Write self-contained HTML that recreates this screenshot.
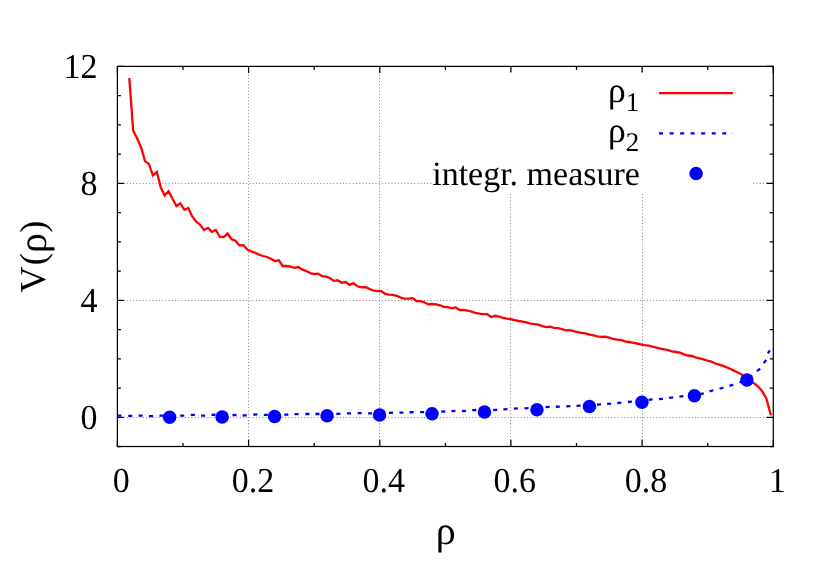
<!DOCTYPE html>
<html><head><meta charset="utf-8"><title>V(rho)</title>
<style>
html,body{margin:0;padding:0;background:#fff;}
body{width:830px;height:581px;overflow:hidden;}
svg{display:block;will-change:transform;}
text{font-family:"Liberation Serif",serif;fill:#000;text-rendering:geometricPrecision;}
.g{stroke:#848484;stroke-width:1;stroke-dasharray:1 2.23;stroke-dashoffset:0.4;fill:none;}
.f{stroke:#000;stroke-width:1.25;fill:none;}
.t{stroke:#000;stroke-width:1.25;fill:none;}
</style></head><body>
<svg width="830" height="581" viewBox="0 0 830 581">
<rect x="0" y="0" width="830" height="581" fill="#ffffff"/>

<g class="g">
<path d="M248.5,446.5 V66.4"/>
<path d="M379.5,446.5 V66.4"/>
<path d="M510.5,446.5 V66.4"/>
<path d="M642.5,446.5 V66.4"/>
<path d="M117.4,417.5 H773.3"/>
<path d="M117.4,300.5 H773.3"/>
<path d="M117.4,183.5 H773.3"/>
</g>
<path class="t" d="M117.4,446.5 v-6.7 M117.4,66.4 v6.7 M183.0,446.5 v-3.5 M183.0,66.4 v3.5 M248.6,446.5 v-6.7 M248.6,66.4 v6.7 M314.2,446.5 v-3.5 M314.2,66.4 v3.5 M379.8,446.5 v-6.7 M379.8,66.4 v6.7 M445.4,446.5 v-3.5 M445.4,66.4 v3.5 M510.9,446.5 v-6.7 M510.9,66.4 v6.7 M576.5,446.5 v-3.5 M576.5,66.4 v3.5 M642.1,446.5 v-6.7 M642.1,66.4 v6.7 M707.7,446.5 v-3.5 M707.7,66.4 v3.5 M773.3,446.5 v-6.7 M773.3,66.4 v6.7 M117.4,446.5 h3.5 M773.3,446.5 h-3.5 M117.4,417.3 h6.7 M773.3,417.3 h-6.7 M117.4,388.0 h3.5 M773.3,388.0 h-3.5 M117.4,358.8 h3.5 M773.3,358.8 h-3.5 M117.4,329.5 h3.5 M773.3,329.5 h-3.5 M117.4,300.3 h6.7 M773.3,300.3 h-6.7 M117.4,271.1 h3.5 M773.3,271.1 h-3.5 M117.4,241.8 h3.5 M773.3,241.8 h-3.5 M117.4,212.6 h3.5 M773.3,212.6 h-3.5 M117.4,183.4 h6.7 M773.3,183.4 h-6.7 M117.4,154.1 h3.5 M773.3,154.1 h-3.5 M117.4,124.9 h3.5 M773.3,124.9 h-3.5 M117.4,95.6 h3.5 M773.3,95.6 h-3.5 M117.4,66.4 h6.7 M773.3,66.4 h-6.7"/>
<path d="M129.3,78.1 L133.2,130.8 L137.2,138.6 L141.1,147.5 L145.0,161.1 L149.0,164.1 L152.9,175.5 L156.8,171.9 L160.8,187.6 L164.7,195.4 L168.6,191.2 L172.6,199.0 L176.5,206.0 L180.4,203.3 L184.4,209.8 L188.3,208.0 L192.2,216.5 L196.2,221.6 L200.1,224.7 L204.0,230.1 L208.0,228.0 L211.9,231.8 L215.8,230.0 L219.8,237.0 L223.7,237.2 L227.6,233.6 L231.6,239.2 L235.5,240.8 L239.4,245.4 L243.4,245.1 L247.3,249.6 L251.2,251.4 L255.2,252.7 L259.1,254.7 L263.0,256.0 L267.0,257.0 L270.9,258.7 L274.8,261.1 L278.8,260.3 L282.7,266.0 L286.6,266.0 L290.6,266.6 L294.5,267.8 L298.4,267.0 L302.4,269.6 L306.3,271.1 L310.2,273.1 L314.1,274.2 L318.1,273.6 L322.0,276.2 L325.9,276.6 L329.9,278.0 L333.8,280.9 L337.7,280.3 L341.7,282.7 L345.6,282.0 L349.5,284.9 L353.5,283.1 L357.4,286.3 L361.3,287.3 L365.3,287.0 L369.2,288.9 L373.1,290.5 L377.1,291.1 L381.0,291.0 L384.9,293.7 L388.9,294.6 L392.8,294.8 L396.7,295.8 L400.7,297.6 L404.6,298.7 L408.5,298.7 L412.5,298.1 L416.4,301.0 L420.3,301.1 L424.3,302.2 L428.2,304.3 L432.1,304.0 L436.1,304.3 L440.0,305.3 L443.9,306.9 L447.9,307.1 L451.8,308.4 L455.7,307.5 L459.7,310.0 L463.6,309.8 L467.5,310.5 L471.5,311.7 L475.4,312.9 L479.3,313.7 L483.3,314.1 L487.2,314.1 L491.1,317.0 L495.1,315.8 L499.0,316.5 L502.9,317.8 L506.9,318.6 L510.8,319.2 L514.7,320.2 L518.7,321.0 L522.6,321.6 L526.5,322.4 L530.5,323.6 L534.4,324.1 L538.3,324.7 L542.3,326.1 L546.2,327.1 L550.1,326.7 L554.1,327.8 L558.0,328.2 L561.9,329.2 L565.9,330.4 L569.8,330.1 L573.7,331.1 L577.7,332.2 L581.6,332.9 L585.5,333.3 L589.5,334.7 L593.4,335.3 L597.3,336.3 L601.3,336.9 L605.2,336.7 L609.1,337.5 L613.1,338.9 L617.0,339.6 L620.9,340.0 L624.9,341.3 L628.8,342.0 L632.7,342.7 L636.7,343.5 L640.6,344.3 L644.5,345.2 L648.5,345.7 L652.4,346.7 L656.3,347.6 L660.3,348.7 L664.2,349.3 L668.1,350.1 L672.1,351.3 L676.0,352.0 L679.9,352.7 L683.9,354.3 L687.8,355.5 L691.7,356.0 L695.7,357.3 L699.6,358.3 L703.5,359.3 L707.4,360.6 L711.4,361.6 L715.3,363.5 L719.2,364.7 L723.2,365.9 L727.1,367.5 L731.0,369.3 L735.0,371.1 L738.9,372.9 L742.8,375.1 L746.8,378.3 L750.7,381.1 L754.6,383.7 L758.6,387.1 L762.5,391.6 L766.4,398.8 L770.4,413.5 L771.0,415.3" fill="none" stroke="#ff0000" stroke-width="2.3" stroke-linejoin="miter" stroke-miterlimit="6" stroke-linecap="butt"/>
<path d="M117.40,415.60 L121.45,415.60 M128.20,415.90 L132.25,415.90 M138.60,415.57 L142.65,415.63 M149.00,416.20 L153.05,416.20 M159.50,415.66 L163.55,415.54 M169.90,415.60 L173.95,415.60 M180.20,415.67 L184.25,415.53 M190.80,414.90 L194.85,414.90 M201.10,415.61 L205.15,415.59 M211.40,414.87 L215.45,414.73 M221.90,414.88 L225.95,414.92 M232.50,415.01 L236.55,415.11 M242.70,415.45 L246.75,415.35 M253.30,414.56 L257.35,414.44 M263.80,414.78 L267.85,414.82 M274.20,414.72 L278.25,414.68 M284.30,414.66 L288.35,414.54 M294.50,414.16 L298.55,414.04 M305.40,414.01 L309.45,413.99 M315.40,414.01 L319.45,413.99 M325.90,413.92 L329.95,413.88 M336.30,413.85 L340.35,413.75 M347.00,413.46 L351.05,413.34 M357.60,413.21 L361.65,413.19 M368.10,413.32 L372.15,413.28 M378.50,413.05 L382.55,412.95 M388.90,412.84 L392.95,412.76 M399.40,412.66 L403.45,412.54 M409.60,412.25 L413.65,412.15 M420.10,412.13 L424.15,412.07 M430.60,411.95 L434.65,411.85 M441.20,411.69 L445.25,411.51 M451.40,411.07 L455.45,410.93 M461.90,410.99 L465.95,410.81 M472.20,410.19 L476.25,410.01 M482.70,410.01 L486.75,409.99 M493.20,410.02 L497.25,409.88 M503.40,409.44 L507.44,409.16 M513.90,408.61 L517.94,408.39 M524.50,408.29 L528.55,408.11 M535.00,407.71 L539.04,407.49 M545.60,407.09 L549.65,406.91 M555.80,406.77 L559.85,406.63 M566.30,406.40 L570.35,406.20 M576.50,405.82 L580.54,405.58 M587.00,405.22 L591.04,404.98 M597.00,404.64 L601.04,404.36 M607.10,403.87 L611.14,403.53 M617.30,402.98 L621.33,402.62 M627.90,401.99 L631.93,401.61 M638.20,401.01 L642.23,400.59 M648.60,399.78 L652.63,399.42 M658.90,399.20 L662.93,398.80 M669.10,397.85 L673.12,397.35 M679.40,396.63 L683.42,396.17 M689.70,395.47 L693.71,394.93 M699.80,394.14 L703.75,393.26 M709.50,391.34 L713.40,390.26 M719.50,388.74 L723.40,387.66 M729.50,385.88 L733.35,384.62 M739.50,382.38 L743.32,381.02 M749.0,378.0 L752.0,375.3 M756.9,371.1 L760.2,368.75 M763.8,363.1 L766.2,359.9 M767.8,353.45 L769.85,350.4" fill="none" stroke="#0000ff" stroke-width="2.3"/>
<circle cx="169.67" cy="417.17" r="6.75" fill="#0000ff"/>
<circle cx="222.14" cy="416.90" r="6.75" fill="#0000ff"/>
<circle cx="274.62" cy="416.50" r="6.75" fill="#0000ff"/>
<circle cx="327.09" cy="415.70" r="6.75" fill="#0000ff"/>
<circle cx="379.56" cy="414.90" r="6.75" fill="#0000ff"/>
<circle cx="432.03" cy="413.70" r="6.75" fill="#0000ff"/>
<circle cx="484.50" cy="411.90" r="6.75" fill="#0000ff"/>
<circle cx="536.98" cy="409.70" r="6.75" fill="#0000ff"/>
<circle cx="589.45" cy="406.60" r="6.75" fill="#0000ff"/>
<circle cx="641.92" cy="402.30" r="6.75" fill="#0000ff"/>
<circle cx="694.39" cy="395.66" r="6.75" fill="#0000ff"/>
<circle cx="746.86" cy="379.95" r="6.75" fill="#0000ff"/>
<rect x="433" y="72.5" width="319.5" height="120.5" fill="#ffffff"/>
<path d="M659.0,93.1 H733.0" stroke="#ff0000" stroke-width="2.3" fill="none"/>
<path d="M659.0,133.35 H733.0" stroke="#0000ff" stroke-width="2.3" stroke-dasharray="4.05 6.49" fill="none"/>
<circle cx="696.1" cy="173.45" r="6.75" fill="#0000ff"/>
<text x="608" y="101.5" font-size="35.5">ρ</text>
<text x="639.3" y="110.65" font-size="27.0" text-anchor="end">1</text>
<text x="608" y="141.7" font-size="35.5">ρ</text>
<text x="639.3" y="150.85" font-size="27.0" text-anchor="end">2</text>
<text x="639.9" y="184.8" font-size="34.0" text-anchor="end">integr. measure</text>
<rect class="f" x="117.4" y="66.4" width="655.9" height="380.1"/>
<text transform="translate(97.6,429.1) scale(1,1.03)" font-size="34.0" text-anchor="end">0</text>
<text transform="translate(97.6,312.1) scale(1,1.03)" font-size="34.0" text-anchor="end">4</text>
<text transform="translate(97.6,195.2) scale(1,1.03)" font-size="34.0" text-anchor="end">8</text>
<text transform="translate(97.6,78.2) scale(1,1.03)" font-size="34.0" text-anchor="end">12</text>
<text transform="translate(121.3,491.7) scale(1,1.03)" font-size="34.0" text-anchor="middle">0</text>
<text transform="translate(253.0,491.7) scale(1,1.03)" font-size="34.0" text-anchor="middle">0.2</text>
<text transform="translate(383.7,491.7) scale(1,1.03)" font-size="34.0" text-anchor="middle">0.4</text>
<text transform="translate(514.8,491.7) scale(1,1.03)" font-size="34.0" text-anchor="middle">0.6</text>
<text transform="translate(646.0,491.7) scale(1,1.03)" font-size="34.0" text-anchor="middle">0.8</text>
<text transform="translate(777.2,491.7) scale(1,1.03)" font-size="34.0" text-anchor="middle">1</text>
<text x="435.7" y="543.8" font-size="40">ρ</text>
<g transform="translate(45.1,256.3) rotate(-90)">
<text x="-36.5" y="0" font-size="36.5">V</text>
<text x="-9.0" y="0" font-size="36.5">(</text>
<text x="3.3" y="1.2" font-size="40">ρ</text>
<text x="23.6" y="0" font-size="36.5">)</text>
</g>
</svg></body></html>
